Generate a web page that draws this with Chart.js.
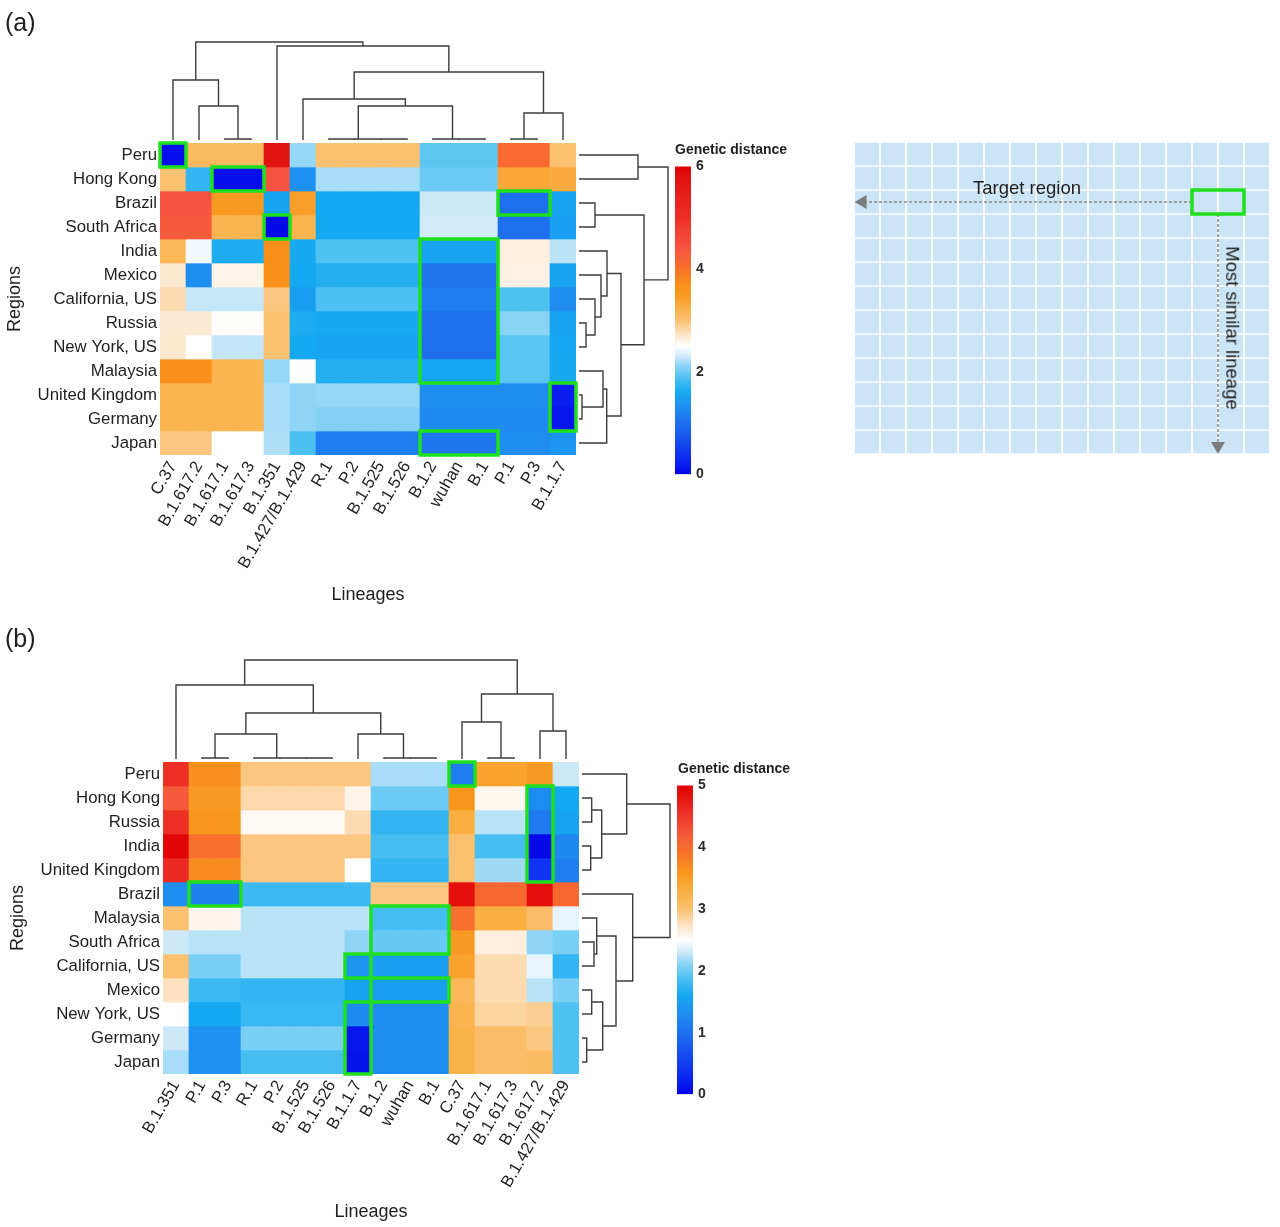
<!DOCTYPE html>
<html lang="en">
<head>
<meta charset="utf-8">
<title>Genetic distance heatmaps</title>
<script src="https://cdn.jsdelivr.net/npm/chart.js@4.4.1/dist/chart.umd.min.js"></script>
<style>
  html, body { margin:0; padding:0; background:#fff; }
  body { position:relative; width:1280px; height:1227px; overflow:hidden;
         font-family:"Liberation Sans", Arial, Helvetica, sans-serif; color:#1e1e1e; }
  canvas { position:absolute; z-index:1; }
  .lbl { position:absolute; white-space:nowrap; line-height:1; z-index:5; }
</style>
</head>
<body>
<div class="lbl" style="left:5px;top:10px;font-size:25px;">(a)</div>
<div class="lbl" style="left:5px;top:626px;font-size:25px;">(b)</div>
<div class="lbl" style="left:675px;top:142px;font-size:14px;font-weight:bold;">Genetic distance</div>
<div class="lbl" style="left:678px;top:761px;font-size:14px;font-weight:bold;">Genetic distance</div>
<div class="lbl" style="left:1027px;top:188px;font-size:18.5px;transform:translate(-50%,-50%);">Target region</div>
<div class="lbl" style="left:1232px;top:328px;font-size:18.5px;transform:translate(-50%,-50%) rotate(90deg);">Most similar lineage</div>

<canvas id="heatA" width="700" height="610" style="left:0px;top:0px;width:700px;height:610px"></canvas>
<canvas id="barA" width="50" height="335" style="left:675px;top:153px;width:50px;height:335px"></canvas>
<canvas id="heatB" width="700" height="608" style="left:3px;top:619px;width:700px;height:608px"></canvas>
<canvas id="barB" width="50" height="336" style="left:677px;top:772px;width:50px;height:336px"></canvas>
<canvas id="schem" width="440" height="340" style="left:840px;top:130px;width:440px;height:340px"></canvas>

<script>
// ================= DATA =================
// ---- Panel (a) ----
const regionsA = ['Peru','Hong Kong','Brazil','South Africa','India','Mexico','California, US',
                  'Russia','New York, US','Malaysia','United Kingdom','Germany','Japan'];
const lineagesA = ['C.37','B.1.617.2','B.1.617.1','B.1.617.3','B.1.351','B.1.427/B.1.429','R.1','P.2',
                   'B.1.525','B.1.526','B.1.2','wuhan','B.1','P.1','P.3','B.1.1.7'];
// genetic distance, one row per region (columns follow lineagesA)
const distA = [
  [0.10,3.10,3.10,3.10,5.75,2.15,3.00,3.00,3.00,3.00,1.95,1.95,1.95,4.10,4.10,3.00],
  [3.00,1.75,0.10,0.10,4.40,1.35,2.20,2.20,2.20,2.20,2.00,2.00,2.00,3.35,3.35,3.30],
  [4.40,4.40,3.50,3.50,1.55,3.45,1.60,1.60,1.60,1.60,2.30,2.30,2.30,1.00,1.00,1.55],
  [4.30,4.30,3.20,3.20,0.05,3.20,1.60,1.60,1.60,1.60,2.32,2.32,2.32,1.00,1.00,1.50],
  [3.15,2.45,1.65,1.65,3.70,1.62,1.90,1.90,1.90,1.90,1.55,1.55,1.55,2.65,2.65,2.25],
  [2.70,1.30,2.60,2.60,3.70,1.60,1.68,1.68,1.68,1.68,1.05,1.05,1.05,2.62,2.62,1.55],
  [2.80,2.28,2.28,2.28,2.95,1.50,1.88,1.88,1.88,1.88,1.15,1.15,1.15,1.90,1.90,1.30],
  [2.68,2.68,2.52,2.52,3.00,1.65,1.62,1.62,1.62,1.62,1.00,1.00,1.00,2.10,2.10,1.55],
  [2.70,2.50,2.27,2.27,3.00,1.60,1.55,1.55,1.55,1.55,1.00,1.00,1.00,1.93,1.93,1.58],
  [3.70,3.70,3.20,3.20,2.15,2.50,1.68,1.68,1.68,1.68,1.58,1.58,1.58,1.93,1.93,1.62],
  [3.20,3.20,3.20,3.20,2.20,2.12,2.15,2.15,2.15,2.15,1.30,1.30,1.30,1.30,1.30,0.20],
  [3.20,3.20,3.20,3.20,2.20,2.12,2.08,2.08,2.08,2.08,1.28,1.28,1.28,1.28,1.28,0.15],
  [2.95,2.95,2.50,2.50,2.22,1.88,1.15,1.15,1.15,1.15,1.08,1.08,1.08,1.30,1.30,1.40]
];
// dendrograms: [height, left, right], leaves are column / row indices
const colTreeA = [10.1,
  [6.3, 0, [3.7, 1, [0.4, 2, 3]]],
  [9.7, 4, [7.1, [4.4, 5, [3.7, [0.4, 6, [0.4, [0.4, 7, 8], 9]], [0.4, 10, [0.4, 11, 12]]]],
                 [3.0, [0.4, 13, 14], 15]]]];
const rowTreeA = [9.2, [6.2, 0, 1],
  [6.8, [1.9, 2, 3],
        [4.5, [3.1, 4, [2.5, 5, [1.9, 6, [1.0, 7, 8]]]],
              [3.07, [2.7, 9, [0.6, 10, 11]], 12]]]];
// most-similar-lineage boxes: [firstRow, lastRow, firstCol, lastCol]
const highlightA = [[0,0,0,0],[1,1,2,3],[2,2,13,14],[3,3,4,4],[4,9,10,12],[10,11,15,15],[12,12,10,12]];
const colorbarTicksA = [0, 2, 4, 6];

// ---- Panel (b) ----
const regionsB = ['Peru','Hong Kong','Russia','India','United Kingdom','Brazil','Malaysia','South Africa',
                  'California, US','Mexico','New York, US','Germany','Japan'];
const lineagesB = ['B.1.351','P.1','P.3','R.1','P.2','B.1.525','B.1.526','B.1.1.7','B.1.2','wuhan','B.1',
                   'C.37','B.1.617.1','B.1.617.3','B.1.617.2','B.1.427/B.1.429'];
const distB = [
  [4.55,3.65,3.65,2.95,2.95,2.95,2.95,2.95,2.20,2.20,2.20,1.15,3.45,3.45,3.55,2.30],
  [4.20,3.55,3.55,2.82,2.82,2.82,2.82,2.60,2.00,2.00,2.00,3.60,2.56,2.56,1.30,1.60],
  [4.55,3.60,3.60,2.55,2.55,2.55,2.55,2.80,1.75,1.75,1.75,3.30,2.25,2.25,1.10,1.55],
  [4.95,3.95,3.95,2.95,2.95,2.95,2.95,2.95,1.85,1.85,1.85,3.00,1.85,1.85,0.05,1.25],
  [4.60,3.70,3.70,2.95,2.95,2.95,2.95,2.50,1.75,1.75,1.75,3.00,2.18,2.18,0.40,1.15],
  [1.30,1.20,1.20,1.80,1.80,1.80,1.80,1.80,2.95,2.95,2.95,4.85,4.05,4.05,4.85,4.05],
  [3.00,2.58,2.58,2.25,2.25,2.25,2.25,2.25,1.85,1.85,1.85,3.95,3.30,3.30,3.05,2.40],
  [2.30,2.25,2.25,2.25,2.25,2.25,2.25,2.12,1.98,1.98,1.98,3.55,2.65,2.65,2.12,2.05],
  [3.00,2.05,2.05,2.25,2.25,2.25,2.25,1.40,1.50,1.50,1.50,3.45,2.80,2.80,2.40,1.75],
  [2.75,1.80,1.80,1.75,1.75,1.75,1.75,1.55,1.50,1.50,1.50,3.15,2.80,2.80,2.25,2.05],
  [2.50,1.60,1.60,1.78,1.78,1.78,1.78,1.28,1.32,1.32,1.32,3.20,2.85,2.85,2.90,1.90],
  [2.30,1.35,1.35,2.05,2.05,2.05,2.05,0.15,1.32,1.32,1.32,3.25,3.05,3.05,2.95,1.90],
  [2.20,1.35,1.35,1.85,1.85,1.85,1.85,0.12,1.32,1.32,1.32,3.25,3.05,3.05,3.10,1.90]
];
const colTreeB = [10.2,
  [7.7, 0, [4.9, [2.8, [0.4, 1, 2], [0.4, 3, [0.4, 4, [0.4, 5, 6]]]],
                 [2.8, 7, [0.4, 8, [0.4, 9, 10]]]]],
  [6.8, [4.0, 11, [0.4, 12, 13]], [3.1, 14, 15]]];
const rowTreeB = [9.1,
  [4.77, 0, [2.27, [1.27, 1, 2], [1.17, 3, 4]]],
  [5.37, 5, [3.7, [1.77, 6, [1.5, 7, 8]], [2.37, [1.27, 9, 10], [0.77, 11, 12]]]]];
const highlightB = [[0,0,11,11],[1,4,14,14],[5,5,1,2],[6,7,8,10],[8,8,7,7],[9,9,8,10],[10,12,7,7]];
const colorbarTicksB = [0, 1, 2, 3, 4, 5];

// ---- Schematic ----
const schemRows = 13, schemCols = 16;
const schemTarget = [2, 2, 13, 14];       // [row, row, firstCol, lastCol]

// ================= STYLE =================
const stopsA = [[0,'#0000e6'],[0.2,'#0a1ef0'],[1.0,'#1f70ee'],[1.3,'#1f8cf0'],[1.6,'#14a8f0'],[1.9,'#50c2f2'],
  [2.15,'#95d7f6'],[2.3,'#cde9f8'],[2.5,'#ffffff'],[2.7,'#fde8d0'],[3.0,'#fbc070'],[3.2,'#fab450'],
  [3.5,'#f99a20'],[3.7,'#f8901a'],[4.1,'#f86a30'],[4.4,'#f55540'],[5.0,'#ee3025'],[5.8,'#e01010'],[6,'#dd0000']];
const stopsB = [[0,'#0000e6'],[0.2,'#0a1ef0'],[1.0,'#1f70ee'],[1.3,'#1f8cf0'],[1.6,'#14a8f0'],[1.9,'#50c2f2'],
  [2.15,'#95d7f6'],[2.3,'#cde9f8'],[2.5,'#ffffff'],[2.7,'#fde8d0'],[3.0,'#fbc070'],[3.3,'#fab040'],
  [3.6,'#f9961e'],[3.9,'#f7742a'],[4.2,'#f55a3a'],[4.6,'#ea2a20'],[5,'#e00000']];

const FONT = '"Liberation Sans", Arial, Helvetica, sans-serif';
Chart.defaults.font.family = FONT;
Chart.defaults.color = '#1e1e1e';
const CELL_W = 26, CELL_H = 24, LINK_PX = 10, LEAF_GAP = 0.3, LABEL_W = 160, TOP_SPACE = 143;
const GREEN = '#1fe01f', TREE = '#3c3c3c';

function hex(c){ return [parseInt(c.slice(1,3),16), parseInt(c.slice(3,5),16), parseInt(c.slice(5,7),16)]; }
function colorAt(stops, v){
  if (v <= stops[0][0]) return stops[0][1];
  for (let k = 1; k < stops.length; k++) {
    if (v <= stops[k][0]) {
      const a = hex(stops[k-1][1]), b = hex(stops[k][1]);
      const t = (v - stops[k-1][0]) / (stops[k][0] - stops[k-1][0]);
      const m = a.map((x, i) => Math.round(x + (b[i] - x) * t));
      return 'rgb(' + m.join(',') + ')';
    }
  }
  return stops[stops.length - 1][1];
}

function dendroTop(tree){
  const pts = [];
  const yOf = h => -h * LINK_PX / CELL_H;
  (function walk(n){
    if (typeof n === 'number') return {p: n + 0.5, h: LEAF_GAP};
    const a = walk(n[1]), b = walk(n[2]);
    pts.push({x:a.p, y:yOf(a.h)}, {x:a.p, y:yOf(n[0])}, {x:b.p, y:yOf(n[0])}, {x:b.p, y:yOf(b.h)}, {x:b.p, y:null});
    return {p: (a.p + b.p) / 2, h: n[0]};
  })(tree);
  return pts;
}
function dendroRight(tree, nCols){
  const pts = [];
  const xOf = h => nCols + h * LINK_PX / CELL_W;
  (function walk(n){
    if (typeof n === 'number') return {p: n + 0.5, h: LEAF_GAP};
    const a = walk(n[1]), b = walk(n[2]);
    pts.push({x:xOf(a.h), y:a.p}, {x:xOf(n[0]), y:a.p}, {x:xOf(n[0]), y:b.p}, {x:xOf(b.h), y:b.p}, {x:xOf(b.h), y:null});
    return {p: (a.p + b.p) / 2, h: n[0]};
  })(tree);
  return pts;
}
function boxPath(boxes){
  const pts = [];
  boxes.forEach(([r0, r1, c0, c1]) => {
    pts.push({x:c0, y:r0}, {x:c1+1, y:r0}, {x:c1+1, y:r1+1}, {x:c0, y:r1+1}, {x:c0, y:r0}, {x:c1+1, y:r0}, {x:c0, y:null});
  });
  return pts;
}
const lineBase = {type:'line', pointRadius:0, pointHoverRadius:0, pointHitRadius:0, fill:false, tension:0,
                  spanGaps:false, clip:false, borderJoinStyle:'miter'};

function buildHeatmap(id, d){
  const canvas = document.getElementById(id);
  const nR = d.regions.length, nC = d.lineages.length;
  const W = canvas.width, H = canvas.height;
  const datasets = d.dist.map((row, i) => ({
    type:'bar', order:3,
    data: row.map((v, j) => ({x: j + 0.5, y: [i, i + 1]})),
    backgroundColor: row.map(v => colorAt(d.stops, v)),
    borderWidth:0, grouped:false, barPercentage:1, categoryPercentage:1
  }));
  datasets.push(Object.assign({}, lineBase, {order:2, data: dendroTop(d.colTree), borderColor:TREE, borderWidth:1.4, borderCapStyle:'butt'}));
  datasets.push(Object.assign({}, lineBase, {order:2, data: dendroRight(d.rowTree, nC), borderColor:TREE, borderWidth:1.4, borderCapStyle:'butt'}));
  datasets.push(Object.assign({}, lineBase, {order:1, data: boxPath(d.boxes), borderColor:GREEN, borderWidth:3.5, borderCapStyle:'square'}));

  new Chart(canvas, {
    type:'bar',
    data:{datasets},
    options:{
      responsive:false, animation:false, events:[],
      layout:{padding:{top:TOP_SPACE, left:0, bottom:0, right: W - LABEL_W - nC * CELL_W}},
      plugins:{legend:{display:false}, tooltip:{enabled:false}},
      scales:{
        x:{type:'linear', min:0, max:nC, offset:false,
           grid:{display:false, drawTicks:false}, border:{display:false},
           afterBuildTicks: s => { s.ticks = d.lineages.map((_, j) => ({value: j + 0.5})); },
           afterFit: s => { s.height = H - TOP_SPACE - nR * CELL_H; },
           ticks:{autoSkip:false, minRotation:60, maxRotation:60, padding:3, font:{size:16.8}, color:'#1e1e1e',
                  callback: v => d.lineages[Math.floor(v)]},
           title:{display:true, text:'Lineages', font:{size:18}, color:'#1e1e1e', padding:{top:4, bottom:4}}},
        y:{type:'linear', min:0, max:nR, reverse:true, offset:false,
           grid:{display:false, drawTicks:false}, border:{display:false},
           afterBuildTicks: s => { s.ticks = d.regions.map((_, i) => ({value: i + 0.5})); },
           afterFit: s => { s.width = LABEL_W; },
           ticks:{autoSkip:false, padding:3, font:{size:16.8}, color:'#1e1e1e',
                  callback: v => d.regions[Math.floor(v)]},
           title:{display:true, text:'Regions', font:{size:18}, color:'#1e1e1e', padding:{top:4, bottom:4}}}
      }
    }
  });
}

function buildColorbar(id, stops, ticks){
  const max = ticks[ticks.length - 1];
  const grad = (chart) => {
    const {ctx, chartArea, scales} = chart;
    if (!chartArea) return stops[0][1];
    const g = ctx.createLinearGradient(0, scales.y.getPixelForValue(0), 0, scales.y.getPixelForValue(max));
    stops.forEach(([v, c]) => g.addColorStop(v / max, c));
    return g;
  };
  new Chart(document.getElementById(id), {
    type:'bar',
    data:{labels:[''], datasets:[{data:[[0, max]], backgroundColor: c => grad(c.chart), borderWidth:0,
                                  barPercentage:1, categoryPercentage:1}]},
    options:{
      responsive:false, animation:false, events:[],
      layout:{padding:{top:10, bottom:10, left:0, right:0}},
      plugins:{legend:{display:false}, tooltip:{enabled:false}},
      scales:{
        x:{display:false},
        y:{position:'right', min:0, max, z:1,
           afterBuildTicks: s => { s.ticks = ticks.map(v => ({value: v})); },
           afterFit: s => { s.width = 34; },
           grid:{display:true, drawTicks:false, color:'rgba(255,255,255,0.9)', lineWidth:1.2},
           border:{display:false, dash:[3, 10]},
           ticks:{padding:5, font:{size:14, weight:'bold'}, color:'#2a2a2a'}}
      }
    }
  });
}

function buildSchematic(){
  const datasets = [];
  for (let i = 0; i < schemRows; i++) {
    datasets.push({type:'bar', order:3,
      data: Array.from({length: schemCols}, (_, j) => ({x: j + 0.5, y: [i, i + 1]})),
      backgroundColor:'#cbe5f7', borderColor:'#ffffff', borderWidth:1.2, borderSkipped:false,
      grouped:false, barPercentage:1, categoryPercentage:1});
  }
  const [r0, r1, c0, c1] = schemTarget;
  const rowMid = (r0 + r1 + 1) / 2, colMid = (c0 + c1 + 1) / 2;
  datasets.push(Object.assign({}, lineBase, {order:2, borderColor:'#8a8a8a', borderWidth:1.6, borderDash:[3, 2],
    data:[{x:c0, y:rowMid}, {x:0.45, y:rowMid}, {x:0.45, y:null},
          {x:colMid, y:r1 + 1}, {x:colMid, y:schemRows - 0.5}]}));
  datasets.push({type:'line', order:1, showLine:false, clip:false,
    data:[{x:0.33, y:rowMid}, {x:colMid, y:schemRows - 0.33}],
    pointStyle:'triangle', pointRadius:8, pointRotation:[-90, 180],
    pointBackgroundColor:'#7c7c7c', pointBorderColor:'#7c7c7c', pointBorderWidth:0});
  datasets.push(Object.assign({}, lineBase, {order:1, data: boxPath([schemTarget]), borderColor:GREEN, borderWidth:3.5, borderCapStyle:'square'}));
  new Chart(document.getElementById('schem'), {
    type:'bar',
    data:{datasets},
    options:{
      responsive:false, animation:false, events:[],
      layout:{padding:{left:14, right:10, top:12, bottom:16}},
      plugins:{legend:{display:false}, tooltip:{enabled:false}},
      scales:{
        x:{type:'linear', display:false, min:0, max:schemCols, offset:false,
           afterBuildTicks: s => { s.ticks = Array.from({length: schemCols}, (_, j) => ({value: j + 0.5})); }},
        y:{type:'linear', display:false, min:0, max:schemRows, reverse:true}
      }
    }
  });
}

buildHeatmap('heatA', {regions:regionsA, lineages:lineagesA, dist:distA, stops:stopsA,
                       colTree:colTreeA, rowTree:rowTreeA, boxes:highlightA});
buildHeatmap('heatB', {regions:regionsB, lineages:lineagesB, dist:distB, stops:stopsB,
                       colTree:colTreeB, rowTree:rowTreeB, boxes:highlightB});
buildColorbar('barA', stopsA, colorbarTicksA);
buildColorbar('barB', stopsB, colorbarTicksB);
buildSchematic();
</script>
</body>
</html>
